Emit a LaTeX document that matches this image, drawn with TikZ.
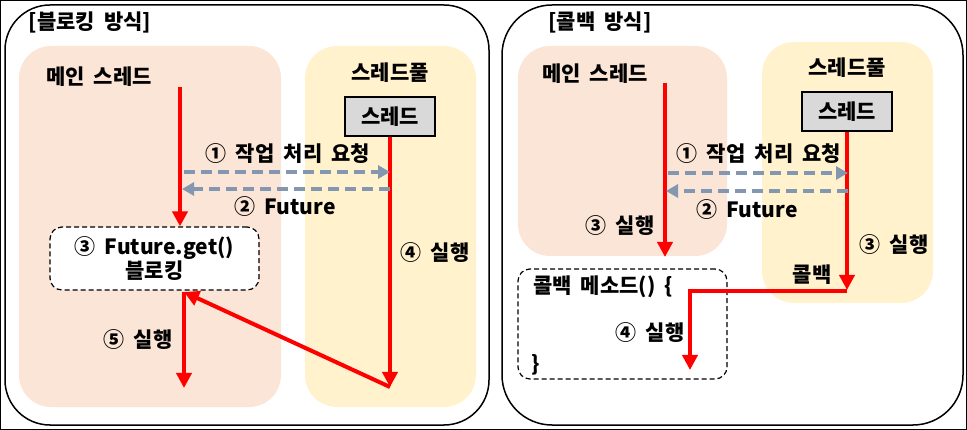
\documentclass[tikz,border=0pt]{standalone}
\usepackage{fontspec}
\setmainfont{Noto Sans CJK KR}[WordSpace=1.9]
\usetikzlibrary{arrows.meta,positioning}
\definecolor{mainfill}{HTML}{FBE5D6}
\definecolor{poolfill}{HTML}{FFF2CC}
\definecolor{thrfill}{HTML}{D9D9D9}
\definecolor{reqline}{HTML}{8497B0}
\tikzset{
  panel/.style    = {draw, line width=1.5pt, rounded corners=45pt},
  mainarea/.style = {fill=mainfill, rounded corners=32pt},
  poolarea/.style = {fill=poolfill, rounded corners=32pt},
  thrbox/.style   = {draw, line width=1.5pt, fill=thrfill,
                     minimum width=90pt, minimum height=39pt},
  waitbox/.style  = {draw, line width=1.2pt, dash pattern=on 5pt off 3pt,
                     fill=white, rounded corners=12pt},
  run/.style      = {draw=red, line width=4pt,
                     -{Triangle[length=15pt,width=15pt]}},
  req/.style      = {draw=reqline, line width=4pt, dash pattern=on 11pt off 6pt,
                     -{Triangle[length=12pt,width=13pt]}},
  lbl/.style      = {inner sep=0pt}
}

\begin{document}
\begin{tikzpicture}
  [
  x = 1pt, y = -1pt,
  every node/.style = {font = \bfseries\fontsize{21}{22}\selectfont}
  ]
  \useasboundingbox (0,0) rectangle (967,430);
  \draw[line width=1pt] (0.5,0.5) rectangle (966.5,429.5);

  % blocking
  \node[panel, minimum width=484pt, minimum height=420pt] (blk) at (247,215) {};
  \node[lbl] (blktitle) at (90,22) {[블로킹 방식]};
  \node[mainarea, minimum width=262pt, minimum height=361pt] (lmain) at (150,226.5) {};
  \node[poolarea, minimum width=171pt, minimum height=361pt] (lpool) at (390.5,226.5) {};
  \node[lbl] (lmainlbl) at (99,77) {메인 스레드};
  \node[lbl] (lpoollbl) at (390,73) {스레드풀};
  \node[thrbox] (lthr) at (390,116.5) {스레드};
  \node[waitbox, align=center, minimum width=209pt, minimum height=63pt] (lwait) at (154.5,258.5)
    {③ Future.get()\\블로킹};

  \coordinate (lm0) at (180,87);
  \coordinate (lt1) at (390,387);
  \coordinate (lw1) at (184,292);
  \coordinate (lend) at (184,388);
  \coordinate (lq0) at (184,172);
  \coordinate (lq1) at (390,172);
  \coordinate (lf0) at (390,189);
  \coordinate (lf1) at (182,189);

  \draw[run] (lm0) -- (lm0 |- lwait.north);
  \draw[run] (lthr.south) -- (lt1);
  \draw[run] (lt1) -- (lw1);
  \draw[run] (lw1) -- (lend);
  \draw[req] (lq0) -- (lq1);
  \draw[req] (lf0) -- (lf1);

  \node[lbl] (lreq) at (288,154) {① 작업 처리 요청};
  \node[lbl] (lfut) at (285,207) {② Future};
  \node[lbl] (lrun4) at (435,253) {④ 실행};
  \node[lbl] (lrun5) at (138,340) {⑤ 실행};

  % callback
  \node[panel, rounded corners=50pt, minimum width=461pt, minimum height=420pt] (cbk) at (732.5,215) {};
  \node[lbl] (cbktitle) at (600,22) {[콜백 방식]};
  \node[mainarea, minimum width=209pt, minimum height=210pt] (rmain) at (622.5,151) {};
  \node[poolarea, minimum width=171pt, minimum height=261pt] (rpool) at (847.5,172.5) {};
  \node[lbl] (rmainlbl) at (595,74) {메인 스레드};
  \node[lbl] (rpoollbl) at (847,68) {스레드풀};
  \node[thrbox] (rthr) at (847,111.5) {스레드};
  \node[waitbox, minimum width=209pt, minimum height=110pt] (rcb) at (622.5,324) {};
  \node[lbl, anchor=west] (rcbhead) at (533,287) {콜백 메소드() \{};
  \node[lbl, anchor=west] (rcbtail) at (531,365) {\}};

  \coordinate (rm0) at (665,83);
  \coordinate (rm1) at (665,257);
  \coordinate (rt1) at (847,290);
  \coordinate (rt2) at (847,291);
  \coordinate (rend) at (690,370);
  \coordinate (rq0) at (668,173);
  \coordinate (rq1) at (848,173);
  \coordinate (rf0) at (848,191);
  \coordinate (rf1) at (666,191);

  \draw[run] (rm0) -- (rm1);
  \draw[run] (rthr.south) -- (rt1);
  \draw[run] (rt2) -| (rend);
  \draw[req] (rq0) -- (rq1);
  \draw[req] (rf0) -- (rf1);

  \node[lbl] (rreq) at (759,154) {① 작업 처리 요청};
  \node[lbl] (rfut) at (747,210) {② Future};
  \node[lbl] (rrun3a) at (620,226) {③ 실행};
  \node[lbl] (rrun3b) at (894,245) {③ 실행};
  \node[lbl] (rcall) at (812,275) {콜백};
  \node[lbl] (rrun4) at (650,333) {④ 실행};
\end{tikzpicture}
\end{document}
